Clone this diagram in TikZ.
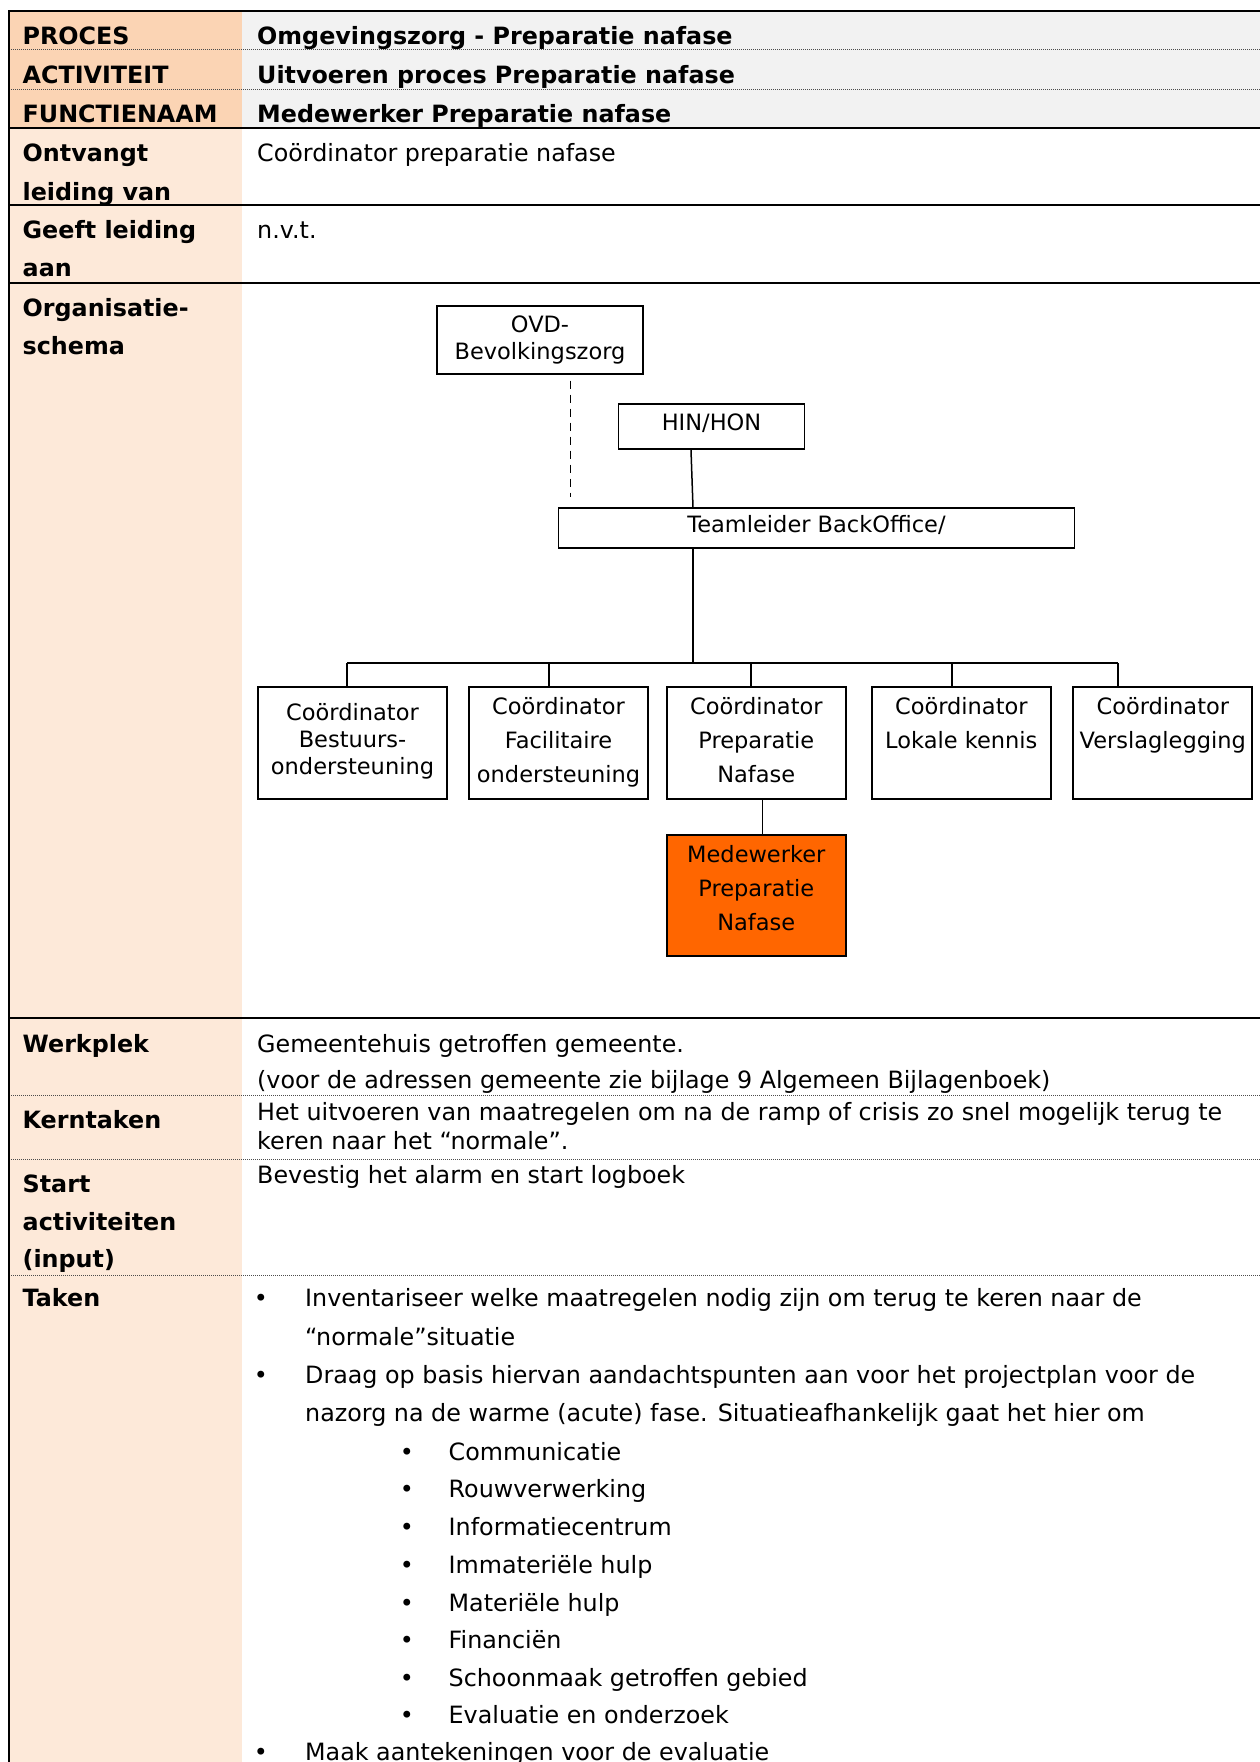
\documentclass[tikz,border=0pt]{standalone}
\usepackage{fontspec}
\setmainfont{DejaVu Sans}
\usetikzlibrary{calc}
\definecolor{hdrpeach}{HTML}{FBD4B4}
\definecolor{lightpeach}{HTML}{FDE9D9}
\definecolor{hdrgray}{HTML}{F2F2F2}
\definecolor{medorange}{HTML}{FF6600}
\begin{document}
\begin{tikzpicture}[x=1pt,y=-1pt,
  lbl/.style={anchor=base west, inner sep=0pt, font=\bfseries\fontsize{23.8}{38.3}\selectfont},
  txt/.style={anchor=base west, inner sep=0pt, font=\fontsize{23.8}{38.3}\selectfont},
  bul/.style={anchor=base, inner sep=0pt, font=\fontsize{23.8}{38.3}\selectfont},
  obox/.style={draw, line width=1.8pt, inner sep=0pt, anchor=north, font=\fontsize{22.5}{34}\selectfont},
  rulethick/.style={line width=2.2pt},
  rulethin/.style={line width=1.2pt},
  ruledot/.style={line width=1pt, black!70, dash pattern=on 1pt off 1pt},
  conn/.style={line width=1.5pt}
]
\useasboundingbox (0,0) rectangle (1260,1762);
% backgrounds
\fill[hdrpeach] (9,11) rectangle (242,128);
\fill[hdrgray] (242,11) rectangle (1260,128);
\fill[lightpeach] (9,128) rectangle (242,1762);
% rules
\draw[ruledot] (9,49.5) -- (1260,49.5);
\draw[ruledot] (9,89) -- (1260,89);
\draw[ruledot] (9,1095) -- (1260,1095);
\draw[ruledot] (9,1159) -- (1260,1159);
\draw[ruledot] (9,1275) -- (1260,1275);
\draw[rulethick] (9,11) -- (1260,11);
\draw[rulethick] (9,128) -- (1260,128);
\draw[rulethick] (9,205) -- (1260,205);
\draw[rulethick] (9,283) -- (1260,283);
\draw[rulethick] (9,1018) -- (1260,1018);
\draw[rulethick] (9,10) -- (9,1018);
\draw[rulethin] (9,1018) -- (9,1762);

% left labels
\node[lbl] (lproc) at (22.5,44) {PROCES};
\node[lbl] (lact) at (22.5,83.5) {ACTIVITEIT};
\node[lbl] (lfun) at (22.5,122) {FUNCTIENAAM};
\node[lbl] (lont) at (22.5,161.7) {\begin{tabular}[t]{@{}l@{}}Ontvangt\\leiding van\end{tabular}};
\node[lbl] (lgeeft) at (22.5,238) {\begin{tabular}[t]{@{}l@{}}Geeft leiding\\aan\end{tabular}};
\node[lbl] (lorg) at (22.5,316.5) {\begin{tabular}[t]{@{}l@{}}Organisatie-\\schema\end{tabular}};
\node[lbl] (lwerk) at (22.5,1052) {Werkplek};
\node[lbl] (lkern) at (22.5,1128.3) {Kerntaken};
\node[lbl, font=\bfseries\fontsize{23.8}{37.5}\selectfont] (lstart) at (22.5,1192.7) {\begin{tabular}[t]{@{}l@{}}Start\\activiteiten\\(input)\end{tabular}};
\node[lbl] (ltaken) at (22.5,1306.7) {Taken};

% right column
\node[lbl] (rproc) at (257,44) {Omgevingszorg - Preparatie nafase};
\node[lbl] (ract) at (257,83.5) {Uitvoeren proces Preparatie nafase};
\node[lbl] (rfun) at (257,122) {Medewerker Preparatie nafase};
\node[txt] (ront) at (257,161.7) {Coördinator preparatie nafase};
\node[txt] (rgeeft) at (257,238) {n.v.t.};
\node[txt, font=\fontsize{23.8}{36}\selectfont] (rwerk) at (257,1052) {\begin{tabular}[t]{@{}l@{}}Gemeentehuis getroffen gemeente.\\(voor de adressen gemeente zie bijlage 9 Algemeen Bijlagenboek)\end{tabular}};
\node[txt, font=\fontsize{23.8}{29.3}\selectfont] (rkern) at (257,1120) {\begin{tabular}[t]{@{}l@{}}Het uitvoeren van maatregelen om na de ramp of crisis zo snel mogelijk terug te\\keren naar het “normale”.\end{tabular}};
\node[txt] (rstart) at (257,1183.3) {Bevestig het alarm en start logboek};

% Taken list
\node[bul] (b1) at (261,1306.7) {•};
\node[txt] (t1) at (305,1306.7) {Inventariseer welke maatregelen nodig zijn om terug te keren naar de};
\node[txt] (t1b) at (305,1345) {“normale”situatie};
\node[bul] (b2) at (261,1383) {•};
\node[txt] (t2) at (305,1383) {Draag op basis hiervan aandachtspunten aan voor het projectplan voor de};
\node[txt] (t2b) at (305,1421.7) {nazorg na de warme (acute) fase. Situatieafhankelijk gaat het hier om};
\foreach \i/\y/\t in {1/1460/Communicatie, 2/1497.5/Rouwverwerking, 3/1535.5/Informatiecentrum, 4/1573/Immateriële hulp, 5/1611/Materiële hulp, 6/1648.5/Financiën, 7/1686.5/Schoonmaak getroffen gebied, 8/1723.5/Evaluatie en onderzoek}{
  \node[bul] (sb\i) at (407,\y) {•};
  \node[txt] (st\i) at (448.5,\y) {\t};
}
\node[bul] (b3) at (261,1760) {•};
\node[txt] (t3) at (305,1760) {Maak aantekeningen voor de evaluatie};

% org chart
\node[obox, minimum width=206pt, text height=26.7pt, text depth=41pt, font=\fontsize{22.5}{26.7}\selectfont] (ovd) at (540,305) {\begin{tabular}[t]{@{}c@{}}OVD-\\Bevolkingszorg\end{tabular}};
\node[obox, minimum width=186pt, text height=27.3pt, text depth=18.3pt] (hin) at (711.5,402.7) {HIN/HON};
\node[obox, minimum width=516pt, text height=24.4pt, text depth=15.6pt] (team) at (816.5,507.3) {Teamleider BackOffice/};
\node[obox, minimum width=188.5pt, text height=34pt, text depth=78pt, font=\fontsize{22.5}{26.7}\selectfont] (c1) at (352.5,686) {\begin{tabular}[t]{@{}c@{}}Coördinator\\Bestuurs-\\ondersteuning\end{tabular}};
\node[obox, minimum width=179.5pt, text height=27.3pt, text depth=84.7pt] (c2) at (558.5,686) {\begin{tabular}[t]{@{}c@{}}Coördinator\\Facilitaire\\ondersteuning\end{tabular}};
\node[obox, minimum width=179pt, text height=27.3pt, text depth=84.7pt] (c3) at (756.3,686) {\begin{tabular}[t]{@{}c@{}}Coördinator\\Preparatie\\Nafase\end{tabular}};
\node[obox, minimum width=179pt, text height=27.3pt, text depth=84.7pt] (c4) at (961.3,686) {\begin{tabular}[t]{@{}c@{}}Coördinator\\Lokale kennis\end{tabular}};
\node[obox, minimum width=179pt, text height=27.3pt, text depth=84.7pt] (c5) at (1162.8,686) {\begin{tabular}[t]{@{}c@{}}Coördinator\\Verslaglegging\end{tabular}};
\node[obox, fill=medorange, minimum width=179pt, text height=27.4pt, text depth=93.6pt] (med) at (756.3,834.3) {\begin{tabular}[t]{@{}c@{}}Medewerker\\Preparatie\\Nafase\end{tabular}};

% connectors
\coordinate (dsh) at (570.5,0);
\draw[line width=1.7pt, dash pattern=on 8pt off 6pt] ([yshift=-6pt]ovd.south -| dsh) -- ([yshift=10pt]team.north -| dsh);
\coordinate (hx1) at (691,0);
\coordinate (hx2) at (693,0);
\draw[conn] (hin.south -| hx1) -- (team.north -| hx2);
\coordinate (bar) at (693,663);
\coordinate (d1) at (347,663);
\coordinate (d2) at (549,663);
\coordinate (d3) at (751,663);
\coordinate (d4) at (952,663);
\coordinate (d5) at (1118,663);
\draw[conn] (team.south -| bar) -- (bar);
\draw[line width=1.8pt] (d1) -- (d5);
\draw[conn] (d1) -- (d1 |- c1.north);
\draw[conn] (d2) -- (d2 |- c2.north);
\draw[conn] (d3) -- (d3 |- c3.north);
\draw[conn] (d4) -- (d4 |- c4.north);
\draw[conn] (d5) -- (d5 |- c5.north);
\coordinate (mx) at (762.4,0);
\draw[conn] (c3.south -| mx) -- (med.north -| mx);
\end{tikzpicture}
\end{document}
